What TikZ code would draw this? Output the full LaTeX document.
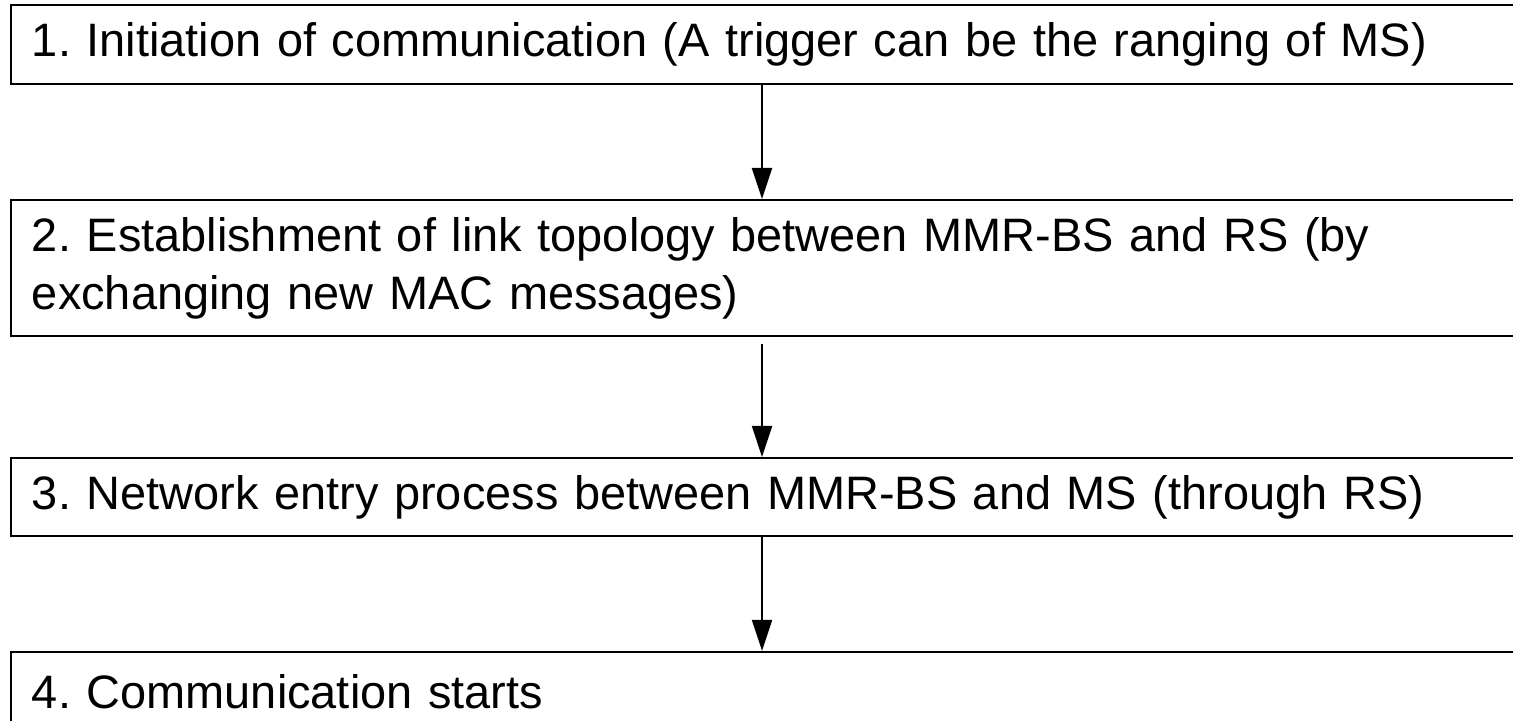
\documentclass[tikz,border=0pt]{standalone}
\usepackage{fontspec}
\setmainfont{Liberation Sans}
\usetikzlibrary{positioning,arrows.meta}
\frenchspacing

\begin{document}
\begin{tikzpicture}[
        x=0.02cm, y=-0.02cm,
        font=\fontsize{26.7pt}{33pt}\selectfont,
        stepbox/.style={draw=black, line width=0.04cm, anchor=north west, align=left,
            text width=29.56cm, inner xsep=0.42cm, inner ysep=0pt},
        arrow/.style={-{Triangle[length=0.62cm, width=0.4cm]}, line width=0.04cm},
    ]
    \useasboundingbox (0,0) rectangle (1513,720);
    \clip (0,0) rectangle (1513,720);

    % Schritte
    \node[stepbox, minimum height=1.58cm] (s1) at (10,4)
        {1. Initiation of communication (A trigger can be the ranging of MS)};
    \node[stepbox, minimum height=2.72cm, below=2.28cm of s1.south west, anchor=north west] (s2)
        {2. Establishment of link topology between MMR-BS and RS (by\\exchanging new MAC messages)};
    \node[stepbox, minimum height=1.56cm, below=2.4cm of s2.south west, anchor=north west] (s3)
        {3. Network entry process between MMR-BS and MS (through RS)};
    \node[stepbox, minimum height=1.58cm, below=2.28cm of s3.south west, anchor=north west] (s4)
        {4. Communication starts};

    % Pfeile
    \coordinate (axis) at (762,0);
    \draw[arrow] (s1.south -| axis) -- (s2.north -| axis);
    \draw[arrow, shorten <=0.14cm] (s2.south -| axis) -- (s3.north -| axis);
    \draw[arrow] (s3.south -| axis) -- (s4.north -| axis);

\end{tikzpicture}
\end{document}
